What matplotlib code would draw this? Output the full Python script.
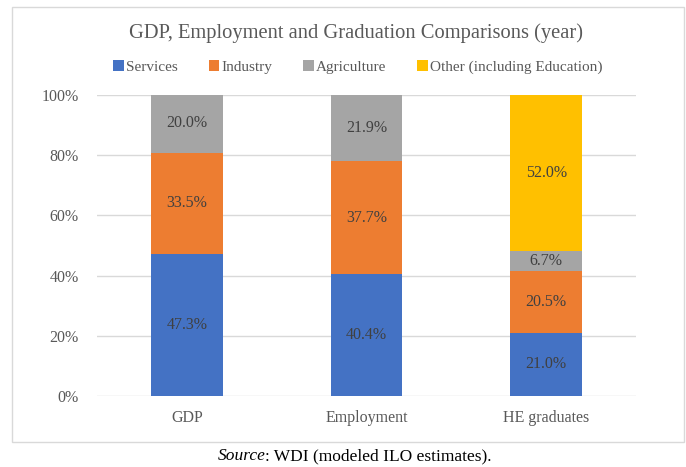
import matplotlib.pyplot as plt
import numpy as np
from matplotlib.patches import Rectangle

# data
categories = ["GDP", "Employment", "HE graduates"]
services = [47.3, 40.4, 21.0]
industry = [33.5, 37.7, 20.5]
agriculture = [20.0, 21.9, 6.7]
other = [0.0, 0.0, 52.0]
series_names = ["Services", "Industry", "Agriculture", "Other (including Education)"]
colors = ["#4472C4", "#ED7D31", "#A5A5A5", "#FFC000"]

plt.rcParams['font.family'] = ['Liberation Serif', 'DejaVu Serif']

fig = plt.figure(figsize=(6.86, 4.67), dpi=100)
W, H = 686, 467
ax = fig.add_axes([97 / W, 1 - 396 / H, (636 - 97) / W, (396 - 95) / H])

x = np.arange(len(categories))
bottom = np.zeros(len(categories))
handles = []
for name, vals, c in zip(series_names, [services, industry, agriculture, other], colors):
    vals = np.array(vals)
    bars = ax.bar(x, vals, width=0.4, bottom=bottom, color=c, zorder=3, label=name)
    handles.append(bars)
    for xi, v, b in zip(x, vals, bottom):
        if v > 0:
            ax.text(xi, b + v / 2, f"{v:.1f}%", ha='center', va='center',
                    fontsize=11.5, color='#404040', zorder=4)
    bottom += vals

ax.set_xlim(-0.5, 2.5)
ax.set_ylim(0, 100)
ax.set_yticks(np.arange(0, 101, 20))
ax.set_yticklabels([f"{v}%" for v in range(0, 101, 20)])
ax.set_xticks(x)
ax.set_xticklabels(categories)
ax.tick_params(axis='both', length=0, labelsize=11.5, labelcolor='#595959')
ax.tick_params(axis='y', pad=13)
ax.tick_params(axis='x', pad=10)
ax.grid(axis='y', color='#D9D9D9', linewidth=1, zorder=0)
for s in ax.spines.values():
    s.set_visible(False)

fig.text(356 / W, 1 - 33 / H, "GDP, Employment and Graduation Comparisons (year)",
         ha='center', va='center', fontsize=14.8, color='#595959')

fig.legend(handles=handles, labels=series_names, loc='center', ncol=4,
           bbox_to_anchor=(358 / W, 1 - 67 / H), frameon=False, fontsize=11,
           handlelength=0.7, handleheight=0.7, handletextpad=0.15, columnspacing=2.0,
           labelcolor='#595959')

# chart border
fig.add_artist(Rectangle((12 / W, 1 - 442 / H), (684 - 12) / W, (442 - 7) / H,
                         transform=fig.transFigure, fill=False,
                         edgecolor='#D9D9D9', linewidth=1))

# caption with italic "Source"
t1 = fig.text(218 / W, 1 - 456 / H, "Source", ha='left', va='center', fontsize=12.5,
              style='italic', color='black')
fig.canvas.draw()
bb = t1.get_window_extent()
fig.text((bb.x1 - 1) / W, 1 - 456 / H, ": WDI (modeled ILO estimates).", ha='left',
         va='center', fontsize=12.5, color='black')

plt.savefig("out.png", dpi=100)
